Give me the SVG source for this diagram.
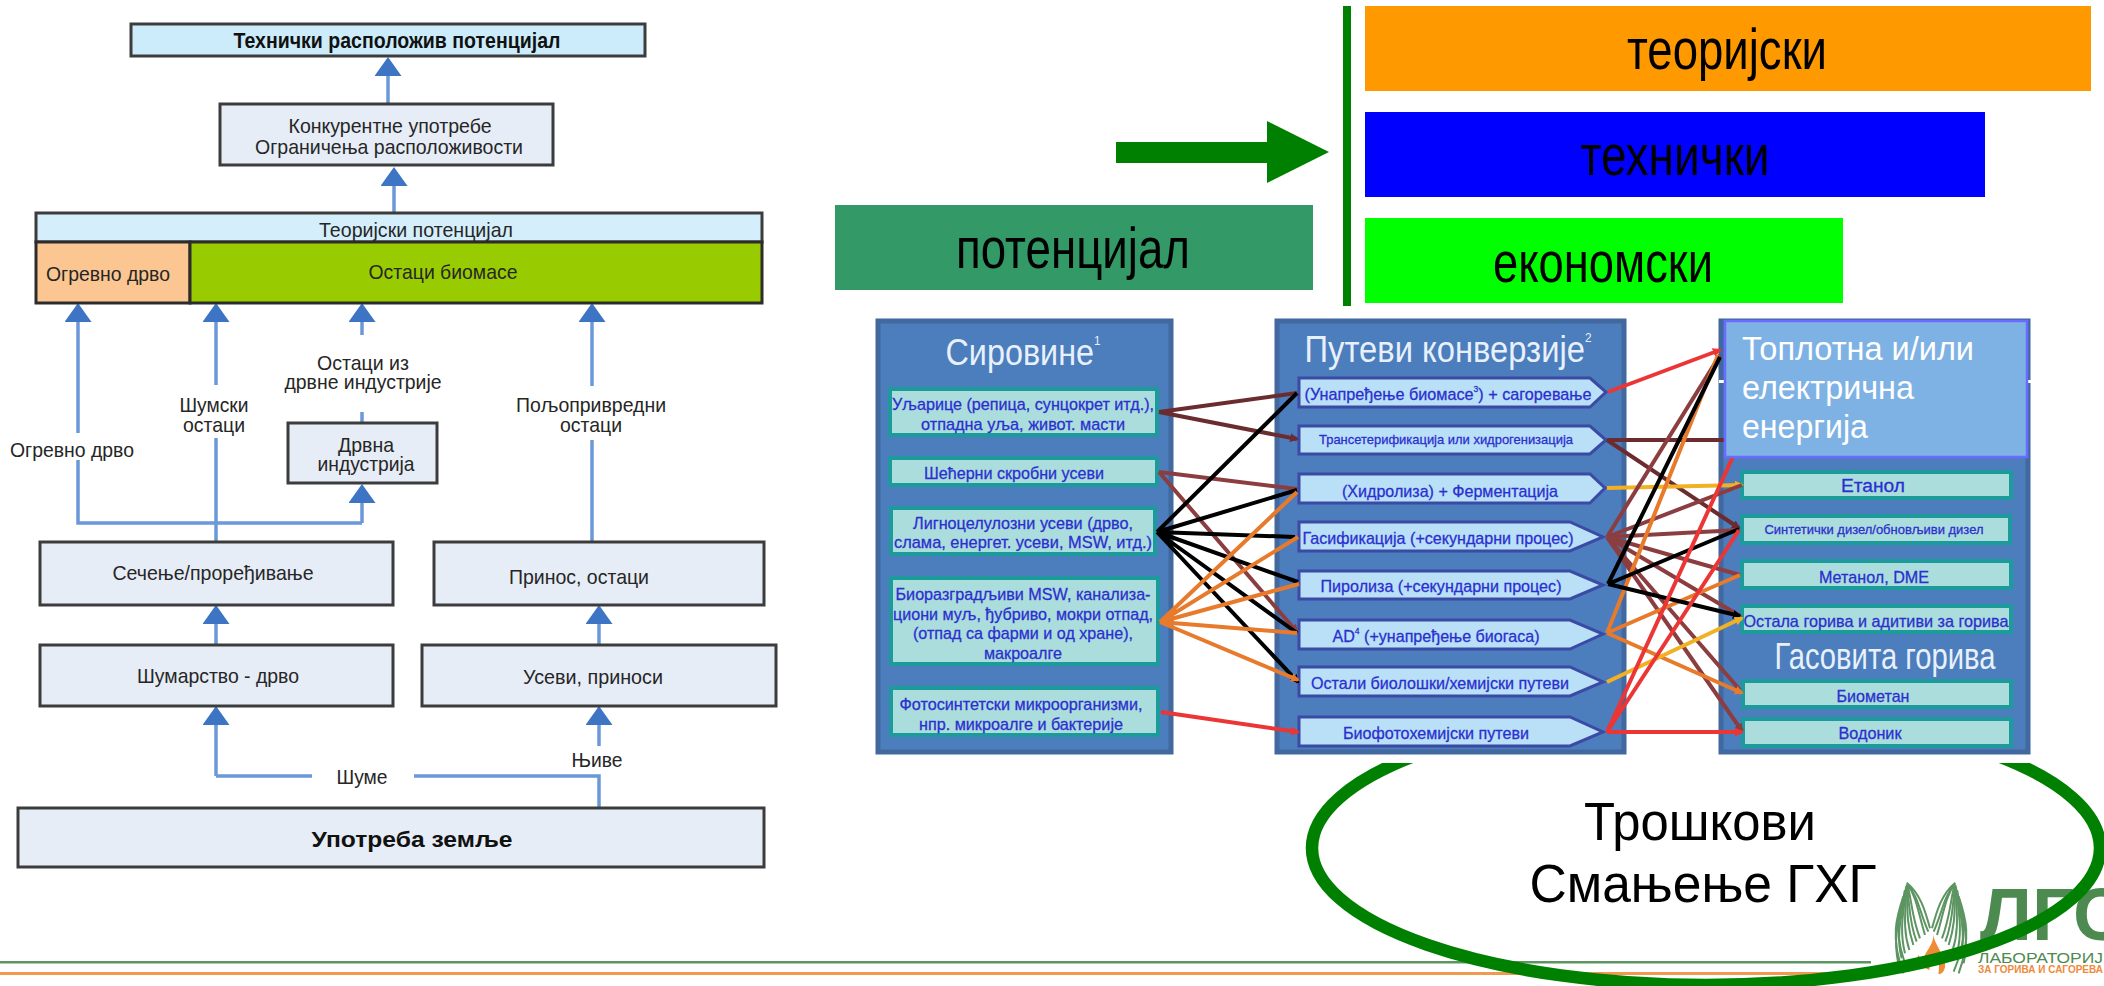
<svg xmlns="http://www.w3.org/2000/svg" xmlns:xlink="http://www.w3.org/1999/xlink" width="2104" height="986" viewBox="0 0 2104 986">
<style>
text{font-family:"Liberation Sans",Arial,sans-serif;text-anchor:middle;dominant-baseline:central}
.l{font-size:21px;fill:#262626}
.lb{font-size:22px;font-weight:bold;fill:#111}
.big{font-size:57px;fill:#000;dominant-baseline:auto}
.big2{font-size:53px;fill:#000;dominant-baseline:auto}
.box{fill:#e6edf7;stroke:#3c3c3c;stroke-width:3}
.flow{fill:none;stroke:#6a98d8;stroke-width:3.5;marker-end:url(#up)}
.flowp{fill:none;stroke:#6a98d8;stroke-width:3.5}
.panel{fill:#4c7dbd;stroke:#41689f;stroke-width:5}
.ptitle{font-size:36px;fill:#e8f1fb;dominant-baseline:auto}
.teal{fill:#abdddd;stroke:#1c9a9c;stroke-width:4}
.pent{fill:#b9e0f7;stroke:#3a4aa5;stroke-width:3}
.bt{font-size:17px;fill:#2b2fcf;stroke:#2b2fcf;stroke-width:.3}
.c{fill:none;stroke-width:4}
.br1{stroke:#6b2c2f;marker-end:url(#m1)}
.br2{stroke:#8c3d40;marker-end:url(#m2)}
.blk{stroke:#000;marker-end:url(#m3)}
.org{stroke:#e77b2b;marker-end:url(#m4)}
.red{stroke:#ec3535;marker-end:url(#m5)}
.yel{stroke:#f2b024;marker-end:url(#m6)}
.wing path{fill:none;stroke:#5c9562;stroke-width:6}
</style>
<defs>
<marker id="up" markerUnits="userSpaceOnUse" markerWidth="19" markerHeight="27" viewBox="0 0 19 27" refX="0" refY="13.5" orient="auto"><path d="M0 0L19 13.5L0 27z" fill="#3e74c4"/></marker>
<marker id="m1" markerUnits="userSpaceOnUse" markerWidth="9" markerHeight="9" viewBox="0 0 9 9" refX="7" refY="4.5" orient="auto"><path d="M0 0L9 4.5L0 9z" fill="#6b2c2f"/></marker>
<marker id="m2" markerUnits="userSpaceOnUse" markerWidth="9" markerHeight="9" viewBox="0 0 9 9" refX="7" refY="4.5" orient="auto"><path d="M0 0L9 4.5L0 9z" fill="#8c3d40"/></marker>
<marker id="m3" markerUnits="userSpaceOnUse" markerWidth="9" markerHeight="9" viewBox="0 0 9 9" refX="7" refY="4.5" orient="auto"><path d="M0 0L9 4.5L0 9z" fill="#000"/></marker>
<marker id="m4" markerUnits="userSpaceOnUse" markerWidth="9" markerHeight="9" viewBox="0 0 9 9" refX="7" refY="4.5" orient="auto"><path d="M0 0L9 4.5L0 9z" fill="#e77b2b"/></marker>
<marker id="m5" markerUnits="userSpaceOnUse" markerWidth="9" markerHeight="9" viewBox="0 0 9 9" refX="7" refY="4.5" orient="auto"><path d="M0 0L9 4.5L0 9z" fill="#ec3535"/></marker>
<marker id="m6" markerUnits="userSpaceOnUse" markerWidth="9" markerHeight="9" viewBox="0 0 9 9" refX="7" refY="4.5" orient="auto"><path d="M0 0L9 4.5L0 9z" fill="#f2b024"/></marker>
<g id="wingshape" class="wing">
<path d="M110 38C150 70 165 120 180 175"/><path d="M112 42C145 80 150 130 175 185"/><path d="M112 42C140 80 145 130 165 195"/><path d="M112 42C125 90 125 140 150 205"/><path d="M110 45C120 100 115 150 140 215"/><path d="M110 45C115 100 105 150 130 225"/><path d="M108 50C110 110 95 170 118 240"/><path d="M108 50C105 110 85 170 105 250"/><path d="M105 60C100 120 75 190 95 265"/><path d="M105 60C95 120 65 190 85 280"/><path d="M100 80C80 140 60 200 100 310"/><path d="M100 80C85 140 70 200 115 305"/>
</g>
</defs>
<rect width="2104" height="986" fill="#fff"/>

<g id="footer-lines">
<rect x="0" y="961" width="1871" height="2.5" fill="#5c9562"/>
<rect x="0" y="972" width="1871" height="3" fill="#f0994f"/>
</g>
<g id="logo">
<g transform="translate(1870 870) scale(.33333)">
<use href="#wingshape"/>
<use href="#wingshape" transform="translate(366 0) scale(-1 1)"/>
<path d="M190 195C195 225 215 240 225 280C228 300 215 315 205 312C210 290 205 270 198 262C190 275 180 285 178 300C150 290 135 270 145 255C150 265 160 265 165 255C175 235 190 220 190 195Z" fill="#f08a34"/>
</g>
<text x="1980" y="940" style="font-size:74px;font-weight:bold;fill:#4c8a50;text-anchor:start;dominant-baseline:auto">ЛГС</text>
<text x="1978" y="963" textLength="125" lengthAdjust="spacingAndGlyphs" style="font-size:15.5px;fill:#4c8a50;text-anchor:start;dominant-baseline:auto">ЛАБОРАТОРИЈ</text>
<text x="1978" y="973" textLength="125" lengthAdjust="spacingAndGlyphs" style="font-size:10px;font-weight:bold;fill:#ee8a3c;text-anchor:start;dominant-baseline:auto">ЗА ГОРИВА И САГОРЕВА</text>
</g>
<g id="ellipse-costs">
<ellipse cx="1706" cy="848" rx="394" ry="137" fill="none" stroke="#008000" stroke-width="12.5"/>
<rect x="1290" y="700" width="814" height="63" fill="#fff"/>
<text class="big2" x="1700" y="840" textLength="232" lengthAdjust="spacingAndGlyphs">Трошкови</text>
<text class="big2" x="1703" y="902" textLength="347" lengthAdjust="spacingAndGlyphs">Смањење ГХГ</text>
</g>

<g id="left-connectors">
<path class="flow" d="M388 104V76"/>
<path class="flow" d="M394 213V186"/>
<path class="flow" d="M78 433V322"/>
<path class="flowp" d="M78 460V523H362"/>
<path class="flow" d="M362 523V503"/>
<path class="flow" d="M216 385V322"/>
<path class="flowp" d="M216 438V542"/>
<path class="flow" d="M362 335V322"/>
<path class="flowp" d="M362 412V423"/>
<path class="flow" d="M592 386V322"/>
<path class="flowp" d="M592 440V542"/>
<path class="flow" d="M216 645V624"/>
<path class="flow" d="M599 645V624"/>
<path class="flow" d="M216 776V725"/>
<path class="flowp" d="M216 776H312M414 776H599V808"/>
<path class="flow" d="M599 746V725"/>
</g>
<g id="n-tech"><rect x="131" y="24" width="514" height="32" fill="#ccecfb" stroke="#3c3c3c" stroke-width="3"/><text class="lb" x="397" y="40" textLength="327" lengthAdjust="spacingAndGlyphs">Технички расположив потенцијал</text></g>
<g id="n-comp"><rect class="box" x="220" y="104" width="333" height="61"/><text class="l" x="390" y="125" textLength="203" lengthAdjust="spacingAndGlyphs">Конкурентне употребе</text><text class="l" x="389" y="146" textLength="268" lengthAdjust="spacingAndGlyphs">Ограничења расположивости</text></g>
<g id="n-theory"><rect x="36" y="213" width="726" height="29" fill="#d5eefb" stroke="#3c3c3c" stroke-width="3"/><text class="l" x="416" y="229" textLength="194" lengthAdjust="spacingAndGlyphs">Теоријски потенцијал</text></g>
<g id="n-firewood"><rect x="36" y="242" width="154" height="61" fill="#fbc692" stroke="#2c2c2c" stroke-width="3"/><text class="l" x="108" y="273" textLength="124" lengthAdjust="spacingAndGlyphs">Огревно дрво</text></g>
<g id="n-residues"><rect x="190" y="242" width="572" height="61" fill="#99cc00" stroke="#2c2c2c" stroke-width="3"/><text class="l" x="443" y="271" textLength="149" lengthAdjust="spacingAndGlyphs">Остаци биомасе</text></g>
<g id="n-wood-industry"><rect class="box" x="288" y="423" width="149" height="60"/><text class="l" x="366" y="444" textLength="56" lengthAdjust="spacingAndGlyphs">Дрвна</text><text class="l" x="366" y="463" textLength="97" lengthAdjust="spacingAndGlyphs">индустрија</text></g>
<g id="n-cut"><rect class="box" x="40" y="542" width="353" height="63"/><text class="l" x="213" y="572" textLength="201" lengthAdjust="spacingAndGlyphs">Сечење/проређивање</text></g>
<g id="n-yield"><rect class="box" x="434" y="542" width="330" height="63"/><text class="l" x="579" y="576" textLength="140" lengthAdjust="spacingAndGlyphs">Принос, остаци</text></g>
<g id="n-forestry"><rect class="box" x="40" y="645" width="353" height="61"/><text class="l" x="218" y="675" textLength="162" lengthAdjust="spacingAndGlyphs">Шумарство - дрво</text></g>
<g id="n-crops"><rect class="box" x="422" y="645" width="354" height="61"/><text class="l" x="593" y="676" textLength="140" lengthAdjust="spacingAndGlyphs">Усеви, приноси</text></g>
<g id="n-landuse"><rect class="box" x="18" y="808" width="746" height="59"/><text class="lb" x="412" y="839" textLength="201" lengthAdjust="spacingAndGlyphs">Употреба земље</text></g>
<g id="left-labels">
<text class="l" x="363" y="362" textLength="92" lengthAdjust="spacingAndGlyphs">Остаци из</text>
<text class="l" x="363" y="381" textLength="157" lengthAdjust="spacingAndGlyphs">дрвне индустрије</text>
<text class="l" x="214" y="404" textLength="69" lengthAdjust="spacingAndGlyphs">Шумски</text>
<text class="l" x="214" y="424" textLength="62" lengthAdjust="spacingAndGlyphs">остаци</text>
<text class="l" x="591" y="404" textLength="150" lengthAdjust="spacingAndGlyphs">Пољопривредни</text>
<text class="l" x="591" y="424" textLength="62" lengthAdjust="spacingAndGlyphs">остаци</text>
<text class="l" x="72" y="449" textLength="124" lengthAdjust="spacingAndGlyphs">Огревно дрво</text>
<text class="l" x="362" y="776" textLength="51" lengthAdjust="spacingAndGlyphs">Шуме</text>
<text class="l" x="597" y="759" textLength="51" lengthAdjust="spacingAndGlyphs">Њиве</text>
</g>

<g id="top-right">
<rect x="1343" y="6" width="8" height="300" fill="#008000"/>
<path d="M1116 142H1267V121L1329 152L1267 183V163H1116z" fill="#008000"/>
<g id="n-potential"><rect x="835" y="205" width="478" height="85" fill="#339966"/><text class="big" x="1073" y="268" textLength="234" lengthAdjust="spacingAndGlyphs">потенцијал</text></g>
<g id="n-theoretical"><rect x="1365" y="6" width="726" height="85" fill="#ff9900"/><text class="big" x="1727" y="69" textLength="200" lengthAdjust="spacingAndGlyphs">теоријски</text></g>
<g id="n-technical"><rect x="1365" y="112" width="620" height="85" fill="#0000ff"/><text class="big" x="1675" y="175" textLength="189" lengthAdjust="spacingAndGlyphs">технички</text></g>
<g id="n-economic"><rect x="1365" y="218" width="478" height="85" fill="#00ff00"/><text class="big" x="1603" y="282" textLength="220" lengthAdjust="spacingAndGlyphs">економски</text></g>
</g>

<g id="panel-feedstock">
<rect class="panel" x="878" y="321" width="293" height="431"/>
<text class="ptitle" x="1023" y="365" textLength="155" lengthAdjust="spacingAndGlyphs">Сировине<tspan dy="-20" style="font-size:13px">1</tspan></text>
<g id="f1"><rect class="teal" x="890" y="389" width="267" height="46"/><text class="bt" x="1023" y="404" textLength="262" lengthAdjust="spacingAndGlyphs">Уљарице (репица, сунцокрет итд.),</text><text class="bt" x="1023" y="424" textLength="204" lengthAdjust="spacingAndGlyphs">отпадна уља, живот. масти</text></g>
<g id="f2"><rect class="teal" x="890" y="458" width="267" height="27"/><text class="bt" x="1014" y="473" textLength="180" lengthAdjust="spacingAndGlyphs">Шећерни скробни усеви</text></g>
<g id="f3"><rect class="teal" x="891" y="508" width="264" height="46"/><text class="bt" x="1023" y="523" textLength="220" lengthAdjust="spacingAndGlyphs">Лигноцелулозни усеви (дрво,</text><text class="bt" x="1023" y="542" textLength="258" lengthAdjust="spacingAndGlyphs">слама, енергет. усеви, MSW, итд.)</text></g>
<g id="f4"><rect class="teal" x="891" y="578" width="267" height="86"/><text class="bt" x="1023" y="594" textLength="255" lengthAdjust="spacingAndGlyphs">Биоразградљиви MSW, канализа-</text><text class="bt" x="1023" y="614" textLength="260" lengthAdjust="spacingAndGlyphs">циони муљ, ђубриво, мокри отпад,</text><text class="bt" x="1023" y="633" textLength="220" lengthAdjust="spacingAndGlyphs">(отпад са фарми и од хране),</text><text class="bt" x="1023" y="653" textLength="78" lengthAdjust="spacingAndGlyphs">макроалге</text></g>
<g id="f5"><rect class="teal" x="891" y="688" width="267" height="47"/><text class="bt" x="1021" y="704" textLength="243" lengthAdjust="spacingAndGlyphs">Фотосинтетски микроорганизми,</text><text class="bt" x="1021" y="724" textLength="204" lengthAdjust="spacingAndGlyphs">нпр. микроалге и бактерије</text></g>
</g>

<g id="panel-pathways">
<rect class="panel" x="1277" y="321" width="347" height="431"/>
<text class="ptitle" x="1448" y="362" textLength="287" lengthAdjust="spacingAndGlyphs">Путеви конверзије<tspan dy="-20" style="font-size:13px">2</tspan></text>
<g id="p1"><polygon class="pent" points="1299,378 1590,378 1606,392 1590,407 1299,407"/><text class="bt" x="1448" y="394" textLength="287" lengthAdjust="spacingAndGlyphs">(Унапређење биомасе<tspan dy="-5" style="font-size:9px">3</tspan><tspan dy="5">) + сагоревање</tspan></text></g>
<g id="p2"><polygon class="pent" points="1299,426 1590,426 1606,440 1590,454 1299,454"/><text class="bt" x="1446" y="439" style="font-size:13.5px" textLength="254" lengthAdjust="spacingAndGlyphs">Трансетерификација или хидрогенизација</text></g>
<g id="p3"><polygon class="pent" points="1299,474 1590,474 1605,488 1590,503 1299,503"/><text class="bt" x="1450" y="491" textLength="216" lengthAdjust="spacingAndGlyphs">(Хидролиза) + Ферментација</text></g>
<g id="p4"><polygon class="pent" points="1299,522 1570,522 1603,537 1570,551 1299,551"/><text class="bt" x="1438" y="538" textLength="271" lengthAdjust="spacingAndGlyphs">Гасификација (+секундарни процес)</text></g>
<g id="p5"><polygon class="pent" points="1299,571 1570,571 1603,585 1570,599 1299,599"/><text class="bt" x="1441" y="586" textLength="241" lengthAdjust="spacingAndGlyphs">Пиролиза (+секундарни процес)</text></g>
<g id="p6"><polygon class="pent" points="1299,620 1570,620 1603,634 1570,649 1299,649"/><text class="bt" x="1436" y="636" textLength="207" lengthAdjust="spacingAndGlyphs">AD<tspan dy="-5" style="font-size:9px">4</tspan><tspan dy="5"> (+унапређење биогаса)</tspan></text></g>
<g id="p7"><polygon class="pent" points="1299,667 1570,667 1603,682 1570,696 1299,696"/><text class="bt" x="1440" y="683" textLength="258" lengthAdjust="spacingAndGlyphs">Остали биолошки/хемијски путеви</text></g>
<g id="p8"><polygon class="pent" points="1299,717 1570,717 1603,732 1570,746 1299,746"/><text class="bt" x="1436" y="733" textLength="186" lengthAdjust="spacingAndGlyphs">Биофотохемијски путеви</text></g>
</g>

<g id="panel-products">
<rect class="panel" x="1721" y="321" width="307" height="431"/>
<rect x="1719" y="380" width="5" height="3" fill="#fff"/><rect x="2027" y="380" width="5" height="3" fill="#fff"/>
<text class="ptitle" x="1885" y="669" textLength="221" lengthAdjust="spacingAndGlyphs">Гасовита горива</text>
<g id="o1"><rect class="teal" x="1742" y="472" width="269" height="26"/><text class="bt" x="1873" y="486" style="font-size:18px" textLength="64" lengthAdjust="spacingAndGlyphs">Етанол</text></g>
<g id="o2"><rect class="teal" x="1742" y="516" width="268" height="27"/><text class="bt" x="1874" y="529" style="font-size:13.5px" textLength="219" lengthAdjust="spacingAndGlyphs">Синтетички дизел/обновљиви дизел</text></g>
<g id="o3"><rect class="teal" x="1742" y="561" width="269" height="27"/><text class="bt" x="1874" y="577" textLength="110" lengthAdjust="spacingAndGlyphs">Метанол, DME</text></g>
<g id="o4"><rect class="teal" x="1742" y="606" width="269" height="26"/><text class="bt" x="1876" y="621" textLength="265" lengthAdjust="spacingAndGlyphs">Остала горива и адитиви за горива</text></g>
<g id="o5"><rect class="teal" x="1743" y="681" width="268" height="26"/><text class="bt" x="1873" y="696" textLength="73" lengthAdjust="spacingAndGlyphs">Биометан</text></g>
<g id="o6"><rect class="teal" x="1743" y="719" width="268" height="27"/><text class="bt" x="1870" y="733" textLength="63" lengthAdjust="spacingAndGlyphs">Водоник</text></g>
</g>

<g id="connectors">
<path class="c br1" d="M1159 412L1297 393M1159 412L1297 439"/>
<path class="c br2" d="M1159 472L1297 489M1159 472L1297 632"/>
<path class="c blk" d="M1157 532L1297 393M1157 532L1297 490M1157 532L1295 537M1157 532L1298 582M1157 532L1297 633M1157 532L1298 682"/>
<path class="c org" d="M1160 622L1297 492M1160 622L1298 537M1160 622L1299 584M1160 622L1297 633M1160 622L1298 680"/>
<path class="c red" d="M1161 712L1298 732"/>
<path class="c red" d="M1608 392L1720 350"/>
<path class="c" stroke="#6b2c2f" d="M1607 440L1724 440"/>
<path class="c br1" d="M1607 440L1739 528"/>
<path class="c yel" d="M1607 488L1742 485"/>
<path class="c br2" d="M1607 537L1720 355M1607 537L1742 485M1607 537L1739 530M1607 537L1740 575M1607 537L1740 616M1607 537L1740 690M1607 537L1742 731"/>
<path class="c org" d="M1607 633L1718 355M1607 633L1740 575M1607 633L1742 693"/>
<path class="c blk" d="M1608 584L1720 357M1608 584L1739 529M1608 584L1740 616"/>
<path class="c yel" d="M1607 682L1742 618"/>
<path class="c red" d="M1607 732L1739 530M1607 732L1742 732"/>
<path class="c" stroke="#ec3535" d="M1607 732L1736 450"/>
</g>
<g id="n-heat">
<rect x="1725" y="321" width="302" height="136" fill="#7eb2e4" stroke="#6a6cff" stroke-width="2.5"/>
<g style="font-size:34px;fill:#fff">
<text x="1858" y="360" style="dominant-baseline:auto" textLength="232" lengthAdjust="spacingAndGlyphs">Топлотна и/или</text>
<text x="1828" y="399" style="dominant-baseline:auto" textLength="172" lengthAdjust="spacingAndGlyphs">електрична</text>
<text x="1805" y="438" style="dominant-baseline:auto" textLength="126" lengthAdjust="spacingAndGlyphs">енергија</text>
</g>
</g>
</svg>
